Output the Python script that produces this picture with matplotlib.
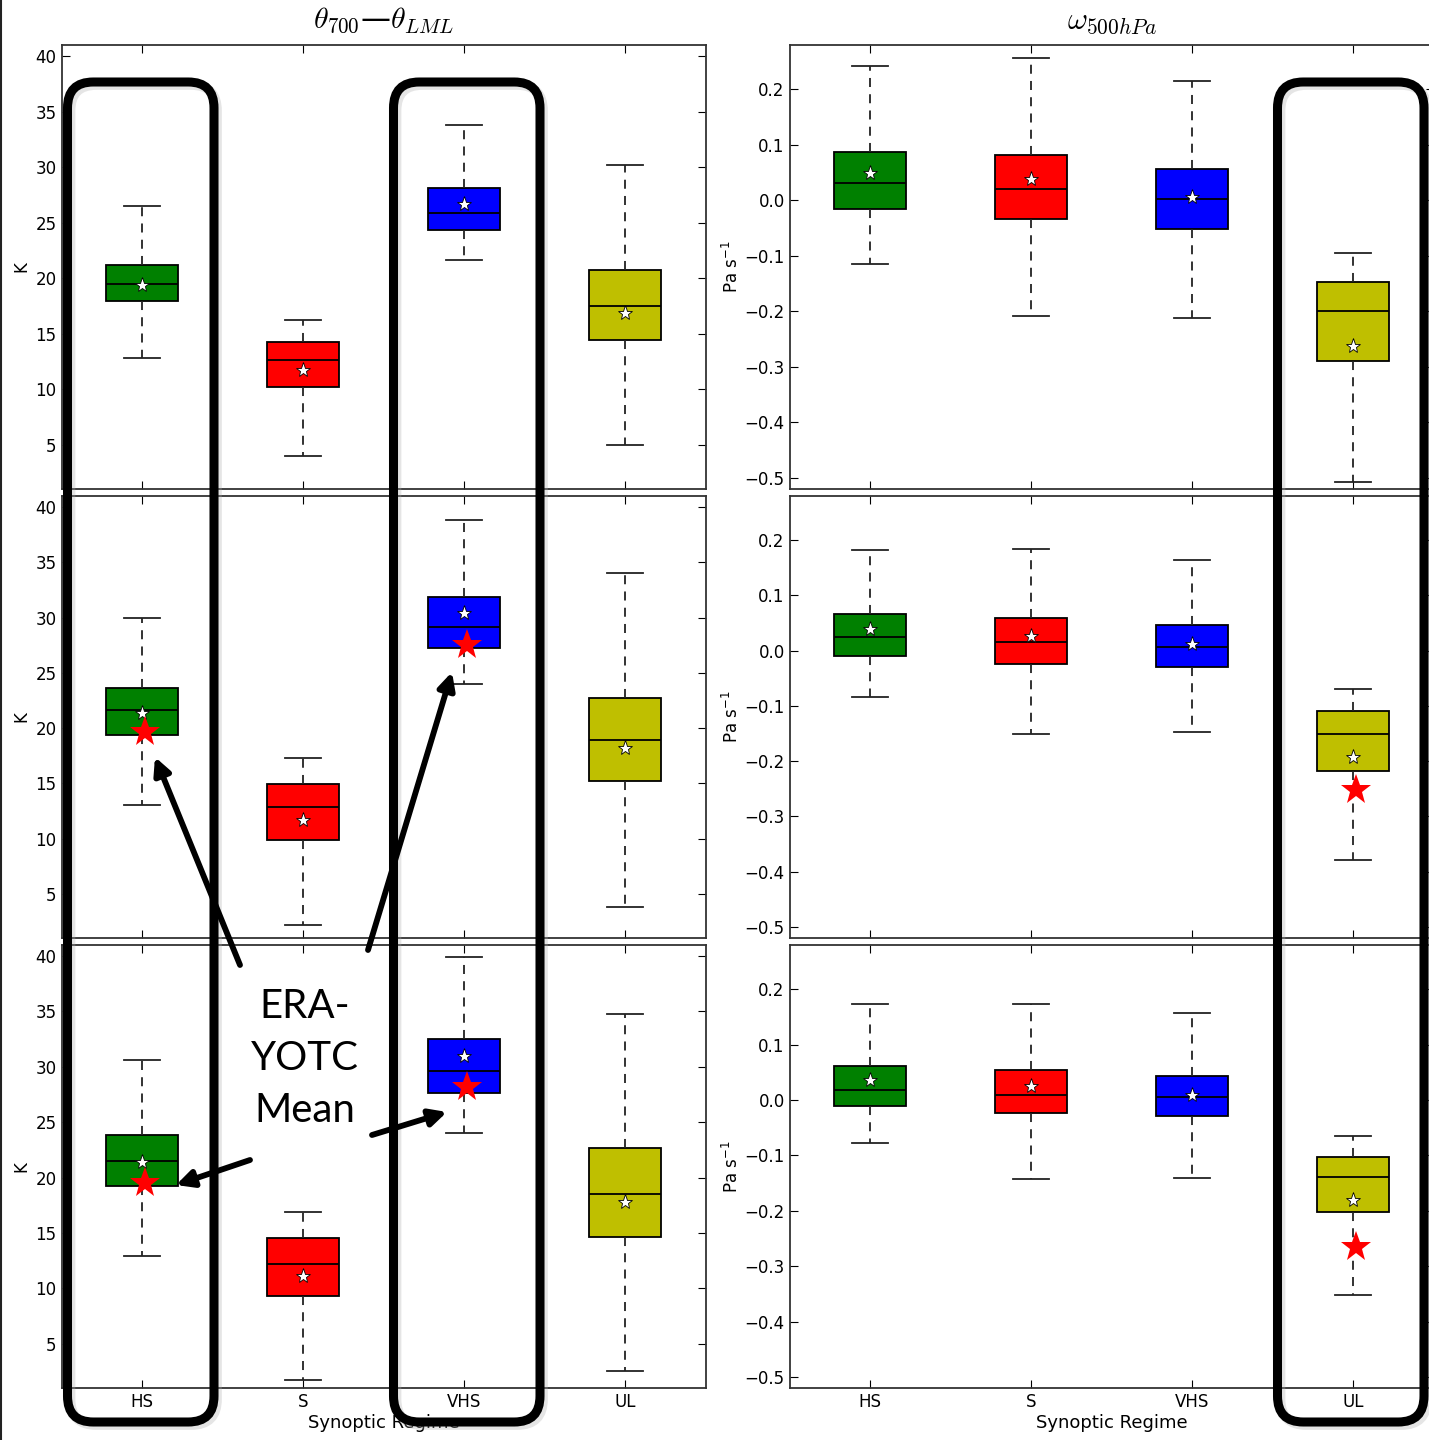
import matplotlib
matplotlib.use('Agg')
import matplotlib.pyplot as plt
from matplotlib.patches import FancyBboxPatch, FancyArrowPatch
from matplotlib.lines import Line2D

regimes = ['HS', 'S', 'VHS', 'UL']
box_colors = [(0, 0.5, 0), (1, 0, 0), (0, 0, 1), (0.75, 0.75, 0)]

# theta_700 - theta_LML (K): whislo, q1, med, q3, whishi, mean  -- one row per panel
theta_top = [[12.8, 17.9, 19.5, 21.2, 26.5, 19.4],
             [4.0, 10.2, 12.6, 14.2, 16.2, 11.7],
             [21.6, 24.3, 25.9, 28.1, 33.8, 26.7],
             [5.0, 14.4, 17.5, 20.7, 30.2, 16.9]]
theta_mid = [[13.0, 19.4, 21.6, 23.6, 30.0, 21.4],
             [2.2, 9.9, 12.9, 14.9, 17.3, 11.7],
             [24.0, 27.2, 29.1, 31.9, 38.8, 30.4],
             [3.8, 15.2, 18.9, 22.7, 34.0, 18.2]]
theta_bot = [[12.9, 19.2, 21.5, 23.8, 30.6, 21.4],
             [1.7, 9.3, 12.2, 14.5, 16.9, 11.1],
             [24.0, 27.6, 29.6, 32.5, 39.9, 31.0],
             [2.5, 14.6, 18.5, 22.7, 34.8, 17.8]]

# omega_500hPa (Pa s-1)
omega_top = [[-0.114, -0.015, 0.032, 0.088, 0.243, 0.050],
             [-0.208, -0.033, 0.021, 0.081, 0.256, 0.039],
             [-0.212, -0.051, 0.003, 0.056, 0.216, 0.007],
             [-0.508, -0.289, -0.199, -0.147, -0.094, -0.262]]
omega_mid = [[-0.083, -0.009, 0.025, 0.066, 0.182, 0.039],
             [-0.150, -0.024, 0.016, 0.059, 0.184, 0.027],
             [-0.148, -0.029, 0.007, 0.047, 0.164, 0.012],
             [-0.378, -0.217, -0.150, -0.110, -0.069, -0.192]]
omega_bot = [[-0.078, -0.011, 0.019, 0.061, 0.173, 0.036],
             [-0.143, -0.024, 0.010, 0.054, 0.173, 0.025],
             [-0.141, -0.029, 0.005, 0.043, 0.157, 0.010],
             [-0.352, -0.203, -0.139, -0.103, -0.065, -0.181]]

# ERA-YOTC means (position, value) for the lower two rows
era_theta_mid = [(1, 19.6), (3, 27.5)]
era_theta_bot = [(1, 19.5), (3, 28.2)]
era_omega_mid = [(4, -0.253)]
era_omega_bot = [(4, -0.266)]

W, H = 1429, 1440
fig = plt.figure(figsize=(W / 100, H / 100), dpi=100)
plt.rcParams['font.size'] = 12


def px(x0, y0, x1, y1):
    # pixel box (top-left origin) -> figure fraction rect
    return [x0 / W, 1 - y1 / H, (x1 - x0) / W, (y1 - y0) / H]


def make_stats(rows):
    return [dict(whislo=r[0], q1=r[1], med=r[2], q3=r[3], whishi=r[4], mean=r[5],
                 fliers=[]) for r in rows]


def draw_panel(ax, rows, ylim, yticks, era=None):
    res = ax.bxp(make_stats(rows), positions=[1, 2, 3, 4], widths=0.45,
                 patch_artist=True, showmeans=True,
                 boxprops=dict(edgecolor='black', linewidth=1.3),
                 whiskerprops=dict(color='#222222', linestyle=(0, (5, 4)), linewidth=1.3),
                 capprops=dict(color='#222222', linewidth=1.3),
                 medianprops=dict(color='black', linewidth=1.3),
                 meanprops=dict(marker='*', markerfacecolor='white',
                                markeredgecolor='black', markersize=11,
                                markeredgewidth=0.6))
    for patch, c in zip(res['boxes'], box_colors):
        patch.set_facecolor(c)
    if era:
        for xp, val in era:
            ax.plot(xp + 0.02, val, marker='*', color='red', markersize=23,
                    markeredgewidth=0, zorder=5)
    ax.set_xlim(0.5, 4.5)
    ax.set_ylim(*ylim)
    ax.set_yticks(yticks)
    ax.tick_params(direction='in', top=True, right=True, length=6, labelsize=12)
    for s in ax.spines.values():
        s.set_linewidth(1.3)
        s.set_color('#333333')


rows_px = [(45, 489), (496, 938), (945, 1388)]
theta_sets = [(theta_top, None), (theta_mid, era_theta_mid), (theta_bot, era_theta_bot)]
omega_sets = [(omega_top, None), (omega_mid, era_omega_mid), (omega_bot, era_omega_bot)]

for i, (y0, y1) in enumerate(rows_px):
    axl = fig.add_axes(px(61.5, y0, 705.5, y1))
    draw_panel(axl, theta_sets[i][0], (1, 41), [5, 10, 15, 20, 25, 30, 35, 40],
               theta_sets[i][1])
    axl.set_ylabel('K', fontsize=12, labelpad=4)

    axr = fig.add_axes(px(789.5, y0, 1433.5, y1))
    draw_panel(axr, omega_sets[i][0], (-0.52, 0.28),
               [-0.5, -0.4, -0.3, -0.2, -0.1, 0.0, 0.1, 0.2], omega_sets[i][1])
    axr.set_ylabel(r'Pa s$^{-1}$', fontsize=12, labelpad=2)

    for ax in (axl, axr):
        ax.set_xticks([1, 2, 3, 4])
        if i == 2:
            ax.set_xticklabels(regimes)
            ax.set_xlabel('Synoptic Regime', fontsize=13, labelpad=2)
        else:
            ax.set_xticklabels([])
    if i == 0:
        axl.set_title(r'$\theta_{700}$' + '\u2014' + r'$\theta_{LML}$', fontsize=21.5,
                      math_fontfamily='cm', pad=12)
        axr.set_title(r'$\omega_{500hPa}$', fontsize=22, math_fontfamily='cm', pad=12)

# slide border on the left edge
fig.add_artist(Line2D([0.8 / W, 0.8 / W], [0, 1], color='#222222', linewidth=1.5,
                      transform=fig.transFigure))

# rounded highlight frames
frames = [(67.5, 82, 214, 1422), (393.5, 82, 540, 1422), (1277.5, 82, 1424, 1422)]
for x0, y0, x1, y1 in frames:
    for dx, dy, col, lw, a in [(3, 3, '#aaaaaa', 7, 0.3), (0, 0, 'black', 6.5, 1.0)]:
        b = FancyBboxPatch(((x0 + dx) / W, 1 - (y1 + dy) / H), (x1 - x0) / W, (y1 - y0) / H,
                           boxstyle='round,pad=0,rounding_size=0.018',
                           transform=fig.transFigure, facecolor='none',
                           edgecolor=col, linewidth=lw, alpha=a, zorder=20)
        fig.add_artist(b)

# ERA-YOTC label with arrows
fig.text(305 / W, 1 - 1058 / H, 'ERA-\nYOTC\nMean', ha='center', va='center',
         fontsize=29, family='Lato', linespacing=1.5, zorder=21)
arrows = [((240, 965), (155, 757)), ((368, 950), (452, 672)),
          ((250, 1160), (176, 1185)), ((372, 1135), (447, 1112))]
for (tx, ty), (hx, hy) in arrows:
    fig.add_artist(FancyArrowPatch((tx / W, 1 - ty / H), (hx / W, 1 - hy / H),
                                   transform=fig.transFigure,
                                   arrowstyle='-|>,head_length=0.5,head_width=0.25',
                                   mutation_scale=20, color='black', linewidth=4.2,
                                   shrinkA=0, shrinkB=0, zorder=21))

fig.savefig('out.png', dpi=100)
